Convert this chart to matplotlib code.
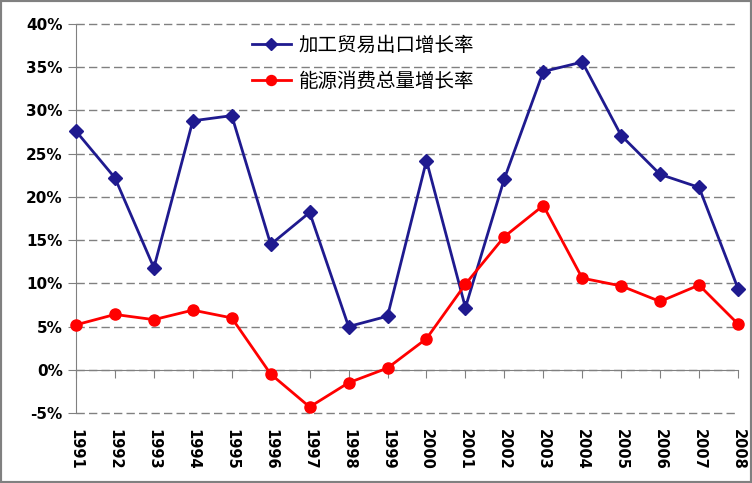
import matplotlib.pyplot as plt
from matplotlib.patches import Rectangle
from matplotlib.ticker import FuncFormatter

plt.rcParams['font.family'] = ['Noto Sans CJK SC', 'DejaVu Sans']

years = [str(y) for y in range(1991, 2009)]
processing_export = [27.6, 22.2, 11.8, 28.8, 29.4, 14.5, 18.2, 5.0, 6.2,
                     24.2, 7.2, 22.1, 34.5, 35.6, 27.1, 22.6, 21.1, 9.4]
energy_use = [5.2, 6.4, 5.8, 6.9, 6.0, -0.5, -4.3, -1.5, 0.2,
              3.6, 9.9, 15.4, 19.0, 10.6, 9.7, 7.9, 9.8, 5.3]
labels = ['加工贸易出口增长率', '能源消费总量增长率']

W, H = 752, 483
fig = plt.figure(figsize=(W / 100, H / 100), dpi=100)
ax = fig.add_axes([76 / W, (H - 413) / H, (738 - 76) / W, (413 - 24) / H])

x = range(len(years))
ax.plot(x, processing_export, color='#1f1a8f', lw=2, marker='D', ms=7,
        clip_on=False, label=labels[0], zorder=3)
ax.plot(x, energy_use, color='#ff0000', lw=2, marker='o', ms=8,
        clip_on=False, label=labels[1], zorder=3)

ax.set_xlim(0, len(years) - 1)
ax.set_ylim(-5, 40)
ax.set_yticks(range(-5, 41, 5))
ax.yaxis.set_major_formatter(FuncFormatter(lambda v, p: f'{v:.0f}%'))
ax.grid(axis='y', color='#808080', ls=(0, (6, 3)), lw=1)
for gl in ax.get_ygridlines():
    gl.set_clip_on(False)
ax.set_axisbelow(True)

for s in ['top', 'right']:
    ax.spines[s].set_visible(False)
ax.spines['left'].set_color('#808080')
ax.spines['bottom'].set_position(('data', 0))
ax.spines['bottom'].set_color('#808080')
ax.tick_params(axis='y', colors='#808080', length=6, labelcolor='black',
               labelsize=11)
for t in ax.get_yticklabels():
    t.set_fontweight('bold')
    t.set_family('DejaVu Sans')
ax.set_xticks(list(x))
ax.tick_params(axis='x', colors='#808080', length=6, labelbottom=False)

for i, yr in enumerate(years):
    ax.text(i, -0.04, yr, transform=ax.get_xaxis_transform(), rotation=270,
            ha='center', va='top', fontsize=10.5, fontweight='bold',
            family='DejaVu Sans')

ax.legend(loc='upper left', bbox_to_anchor=(252 / W, 1 - 35 / H),
          bbox_transform=fig.transFigure, frameon=False, fontsize=14,
          handlelength=2.0, labelspacing=0.75, handletextpad=0.4,
          borderpad=0, borderaxespad=0, markerscale=0.9)

fig.patches.append(Rectangle((0, 0), 1, 1, transform=fig.transFigure,
                             fill=False, edgecolor='#808080', lw=3))

fig.savefig('out.png', dpi=100)
